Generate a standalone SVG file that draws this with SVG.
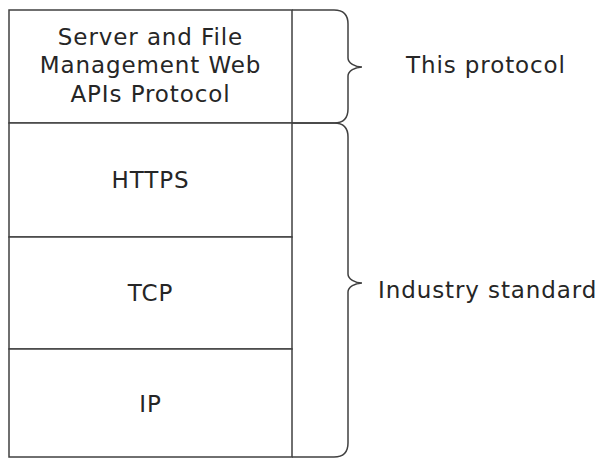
<svg xmlns="http://www.w3.org/2000/svg" width="606" height="460" viewBox="0 0 606 460">
<style>
.box{fill:#fff;stroke:#404040;stroke-width:1.5}
.brace{fill:none;stroke:#404040;stroke-width:1.5}
text{font-family:"DejaVu Sans",Verdana,sans-serif;font-size:23px;letter-spacing:0.9px;fill:#262626}
.c{text-anchor:middle}
</style>
<rect width="606" height="460" fill="#fff"/>
<g id="layer-app">
<rect class="box" x="9" y="10" width="283" height="113"/>
<text class="c" x="150.5" y="45">Server and File</text>
<text class="c" x="150.5" y="73">Management Web</text>
<text class="c" x="150.5" y="101.5">APIs Protocol</text>
</g>
<g id="layer-https">
<rect class="box" x="9" y="123" width="283" height="114"/>
<text class="c" x="150.5" y="188">HTTPS</text>
</g>
<g id="layer-tcp">
<rect class="box" x="9" y="237" width="283" height="112"/>
<text class="c" x="150.5" y="301">TCP</text>
</g>
<g id="layer-ip">
<rect class="box" x="9" y="349" width="283" height="108"/>
<text class="c" x="150.5" y="411.5">IP</text>
</g>
<g id="connectors">
<path class="brace" d="M292,10 H334 Q348,10 348,24 V58 C348,63 355,67 362,67 C355,67 348,71 348,76 V109 Q348,123 334,123 H292"/>
<path class="brace" d="M292,123 H334 Q348,123 348,137 V274 C348,279 355,283 362,283 C355,283 348,287 348,292 V443 Q348,457 334,457 H292"/>
</g>
<g id="label-this">
<text x="406" y="73">This protocol</text>
</g>
<g id="label-industry">
<text x="378" y="298">Industry standard</text>
</g>
</svg>
